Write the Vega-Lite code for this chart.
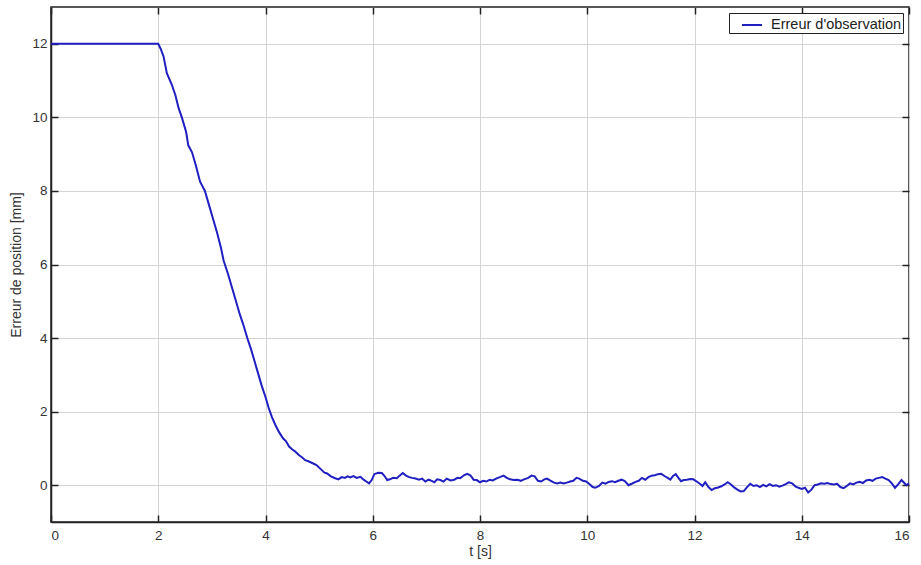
{
  "$schema": "https://vega.github.io/schema/vega-lite/v6.json",
  "autosize": "none",
  "width": 858,
  "height": 515,
  "padding": {"left": 51, "top": 7, "right": 12, "bottom": 43},
  "background": "white",
  "config": {
    "view": {"stroke": "#222", "strokeWidth": 1.5},
    "font": "Liberation Sans"
  },
  "data": {"values": [
    {"t":0,"v":12},{"t":1,"v":12},{"t":2,"v":12},
    {"t":2.05,"v":11.85},{"t":2.1,"v":11.65},{"t":2.16,"v":11.2},{"t":2.25,"v":10.9},{"t":2.32,"v":10.6},{"t":2.38,"v":10.25},
    {"t":2.44,"v":10.0},{"t":2.52,"v":9.6},{"t":2.56,"v":9.24},{"t":2.63,"v":9.05},{"t":2.7,"v":8.7},{"t":2.78,"v":8.25},
    {"t":2.87,"v":8.0},{"t":2.95,"v":7.6},{"t":3.02,"v":7.25},{"t":3.1,"v":6.85},{"t":3.17,"v":6.45},{"t":3.22,"v":6.1},
    {"t":3.3,"v":5.75},{"t":3.38,"v":5.35},{"t":3.45,"v":5.0},{"t":3.52,"v":4.65},{"t":3.6,"v":4.3},{"t":3.66,"v":4.0},
    {"t":3.73,"v":3.7},{"t":3.8,"v":3.35},{"t":3.87,"v":3.0},{"t":3.93,"v":2.7},{"t":4.0,"v":2.4},{"t":4.06,"v":2.1},
    {"t":4.12,"v":1.85},{"t":4.18,"v":1.65},{"t":4.25,"v":1.45},{"t":4.33,"v":1.27},{"t":4.38,"v":1.2},{"t":4.44,"v":1.05},
    {"t":4.5,"v":0.97},{"t":4.55,"v":0.92},{"t":4.62,"v":0.82},{"t":4.68,"v":0.76},{"t":4.74,"v":0.68},{"t":4.8,"v":0.65},
    {"t":4.89,"v":0.59},{"t":4.95,"v":0.55},{"t":5.05,"v":0.41},{"t":5.1,"v":0.34},{"t":5.15,"v":0.32},{"t":5.22,"v":0.24},
    {"t":5.3,"v":0.19},{"t":5.36,"v":0.16},{"t":5.42,"v":0.22},{"t":5.48,"v":0.2},{"t":5.53,"v":0.24},{"t":5.58,"v":0.21},
    {"t":5.64,"v":0.25},{"t":5.7,"v":0.2},{"t":5.77,"v":0.23},{"t":5.83,"v":0.15},{"t":5.88,"v":0.1},{"t":5.93,"v":0.05},
    {"t":5.98,"v":0.14},{"t":6.03,"v":0.3},{"t":6.1,"v":0.34},{"t":6.17,"v":0.33},{"t":6.22,"v":0.25},{"t":6.27,"v":0.14},
    {"t":6.32,"v":0.16},{"t":6.38,"v":0.2},{"t":6.45,"v":0.19},{"t":6.5,"v":0.26},{"t":6.56,"v":0.33},{"t":6.62,"v":0.26},
    {"t":6.68,"v":0.22},{"t":6.73,"v":0.2},{"t":6.8,"v":0.18},{"t":6.86,"v":0.15},{"t":6.92,"v":0.18},{"t":6.98,"v":0.1},
    {"t":7.04,"v":0.15},{"t":7.1,"v":0.12},{"t":7.15,"v":0.08},{"t":7.2,"v":0.16},{"t":7.26,"v":0.14},{"t":7.32,"v":0.1},
    {"t":7.38,"v":0.18},{"t":7.45,"v":0.13},{"t":7.52,"v":0.15},{"t":7.58,"v":0.2},{"t":7.63,"v":0.19},{"t":7.7,"v":0.27},
    {"t":7.76,"v":0.31},{"t":7.82,"v":0.27},{"t":7.88,"v":0.15},{"t":7.94,"v":0.14},{"t":8.0,"v":0.08},{"t":8.06,"v":0.12},
    {"t":8.12,"v":0.1},{"t":8.18,"v":0.15},{"t":8.24,"v":0.13},{"t":8.3,"v":0.18},{"t":8.37,"v":0.22},{"t":8.44,"v":0.26},
    {"t":8.5,"v":0.2},{"t":8.56,"v":0.16},{"t":8.63,"v":0.14},{"t":8.7,"v":0.15},{"t":8.76,"v":0.12},{"t":8.82,"v":0.16},
    {"t":8.9,"v":0.2},{"t":8.96,"v":0.26},{"t":9.02,"v":0.24},{"t":9.08,"v":0.12},{"t":9.14,"v":0.1},{"t":9.2,"v":0.16},
    {"t":9.25,"v":0.18},{"t":9.32,"v":0.12},{"t":9.38,"v":0.07},{"t":9.44,"v":0.05},{"t":9.5,"v":0.07},{"t":9.56,"v":0.05},
    {"t":9.62,"v":0.07},{"t":9.68,"v":0.1},{"t":9.74,"v":0.12},{"t":9.8,"v":0.2},{"t":9.85,"v":0.18},{"t":9.92,"v":0.12},
    {"t":9.98,"v":0.1},{"t":10.05,"v":0.02},{"t":10.1,"v":-0.05},{"t":10.15,"v":-0.07},{"t":10.22,"v":-0.02},{"t":10.28,"v":0.07},
    {"t":10.34,"v":0.04},{"t":10.4,"v":0.09},{"t":10.46,"v":0.11},{"t":10.52,"v":0.08},{"t":10.58,"v":0.12},{"t":10.64,"v":0.15},
    {"t":10.7,"v":0.11},{"t":10.77,"v":0.0},{"t":10.83,"v":0.04},{"t":10.9,"v":0.09},{"t":10.96,"v":0.12},{"t":11.02,"v":0.2},
    {"t":11.08,"v":0.15},{"t":11.14,"v":0.22},{"t":11.2,"v":0.26},{"t":11.26,"v":0.27},{"t":11.32,"v":0.3},{"t":11.38,"v":0.31},
    {"t":11.44,"v":0.25},{"t":11.5,"v":0.2},{"t":11.55,"v":0.15},{"t":11.6,"v":0.25},{"t":11.65,"v":0.3},{"t":11.7,"v":0.2},
    {"t":11.75,"v":0.11},{"t":11.8,"v":0.14},{"t":11.86,"v":0.15},{"t":11.92,"v":0.17},{"t":11.98,"v":0.16},{"t":12.04,"v":0.1},
    {"t":12.1,"v":0.04},{"t":12.15,"v":-0.02},{"t":12.2,"v":0.08},{"t":12.26,"v":-0.05},{"t":12.32,"v":-0.13},{"t":12.38,"v":-0.08},
    {"t":12.44,"v":-0.06},{"t":12.5,"v":-0.03},{"t":12.56,"v":0.02},{"t":12.62,"v":0.08},{"t":12.68,"v":0.02},{"t":12.74,"v":-0.06},
    {"t":12.8,"v":-0.12},{"t":12.86,"v":-0.17},{"t":12.92,"v":-0.16},{"t":12.98,"v":-0.05},{"t":13.04,"v":0.04},{"t":13.1,"v":-0.02},
    {"t":13.16,"v":0.0},{"t":13.22,"v":-0.05},{"t":13.28,"v":0.01},{"t":13.34,"v":-0.03},{"t":13.4,"v":0.03},{"t":13.46,"v":-0.02},
    {"t":13.52,"v":0.0},{"t":13.58,"v":-0.04},{"t":13.64,"v":-0.01},{"t":13.7,"v":0.03},{"t":13.76,"v":0.08},{"t":13.82,"v":0.05},
    {"t":13.88,"v":-0.03},{"t":13.94,"v":-0.07},{"t":14.0,"v":-0.1},{"t":14.06,"v":-0.07},{"t":14.12,"v":-0.2},{"t":14.18,"v":-0.12},
    {"t":14.24,"v":0.0},{"t":14.3,"v":0.02},{"t":14.36,"v":0.05},{"t":14.42,"v":0.04},{"t":14.48,"v":0.06},{"t":14.54,"v":0.03},
    {"t":14.6,"v":0.02},{"t":14.66,"v":0.04},{"t":14.72,"v":-0.05},{"t":14.78,"v":-0.08},{"t":14.84,"v":-0.02},{"t":14.9,"v":0.05},
    {"t":14.96,"v":0.02},{"t":15.02,"v":0.07},{"t":15.08,"v":0.09},{"t":15.14,"v":0.06},{"t":15.2,"v":0.13},{"t":15.26,"v":0.15},
    {"t":15.32,"v":0.12},{"t":15.38,"v":0.18},{"t":15.44,"v":0.2},{"t":15.5,"v":0.22},{"t":15.56,"v":0.18},{"t":15.62,"v":0.14},
    {"t":15.68,"v":0.05},{"t":15.74,"v":-0.07},{"t":15.8,"v":0.03},{"t":15.86,"v":0.14},{"t":15.9,"v":0.08},{"t":15.95,"v":0.0},
    {"t":16.0,"v":0.05}
  ]},
  "resolve": {"axis": {"x": "independent", "y": "independent"}},
  "layer": [
    {
      "mark": {"type": "line", "opacity": 0},
      "encoding": {
        "x": {"field": "t", "type": "quantitative",
          "scale": {"domain": [0, 16], "nice": false, "zero": false},
          "axis": {"orient": "top", "offset": -515, "title": null, "labels": false, "grid": false, "domain": false, "values": [0,2,4,6,8,10,12,14,16],
            "tickColor": "#222", "tickWidth": 1.5, "tickSize": 7}},
        "y": {"field": "v", "type": "quantitative",
          "scale": {"domain": [-1, 13], "nice": false, "zero": false},
          "axis": {"orient": "left", "title": null, "labels": false, "grid": false, "domain": false, "values": [0,2,4,6,8,10,12],
            "tickColor": "#222", "tickWidth": 1.5, "tickSize": -7}}
      }
    },
    {
      "mark": {"type": "line", "opacity": 0},
      "encoding": {
        "x": {"field": "t", "type": "quantitative",
          "axis": {"orient": "bottom", "offset": -515, "title": null, "labels": false, "grid": false, "domain": false, "values": [0,2,4,6,8,10,12,14,16],
            "tickColor": "#222", "tickWidth": 1.5, "tickSize": 7}},
        "y": {"field": "v", "type": "quantitative",
          "axis": {"orient": "right", "title": null, "labels": false, "grid": false, "domain": false, "values": [0,2,4,6,8,10,12],
            "tickColor": "#222", "tickWidth": 1.5, "tickSize": -7}}
      }
    },
    {
      "mark": {"type": "line", "strokeWidth": 2, "interpolate": "linear"},
      "encoding": {
        "x": {"field": "t", "type": "quantitative",
          "axis": {"orient": "bottom", "title": "t [s]", "values": [0,2,4,6,8,10,12,14,16],
            "grid": true, "gridColor": "#d4d4d4", "gridWidth": 1, "ticks": false,
            "domainColor": "#222", "domainWidth": 1.5,
            "labelPadding": 6, "labelFontSize": 13.5, "labelColor": "#333", "labelFont": "Liberation Sans",
            "titleFontSize": 14, "titleFontWeight": "normal", "titleColor": "#333", "titlePadding": 3, "titleFont": "Liberation Sans"}},
        "y": {"field": "v", "type": "quantitative",
          "axis": {"orient": "left", "title": "Erreur de position [mm]", "values": [0,2,4,6,8,10,12],
            "grid": true, "gridColor": "#d4d4d4", "gridWidth": 1, "ticks": false,
            "domainColor": "#222", "domainWidth": 1.5,
            "labelPadding": 4, "labelFontSize": 13.5, "labelColor": "#333", "labelFont": "Liberation Sans",
            "titleFontSize": 14, "titleFontWeight": "normal", "titleColor": "#333", "titlePadding": 8, "titleFont": "Liberation Sans"}},
        "color": {"datum": "Erreur d'observation", "type": "nominal",
          "scale": {"range": ["#1f1fc2"]},
          "legend": {"orient": "top-right", "offset": 6, "title": null, "strokeColor": "#222", "fillColor": "white",
            "padding": 1, "labelFontSize": 14.5, "labelColor": "#222", "labelFont": "Liberation Sans", "labelOffset": 8,
            "symbolOffset": 11, "symbolType": "stroke", "symbolSize": 400, "symbolStrokeWidth": 2, "symbolStrokeColor": "#1f1fc2"}}
      }
    }
  ]
}
